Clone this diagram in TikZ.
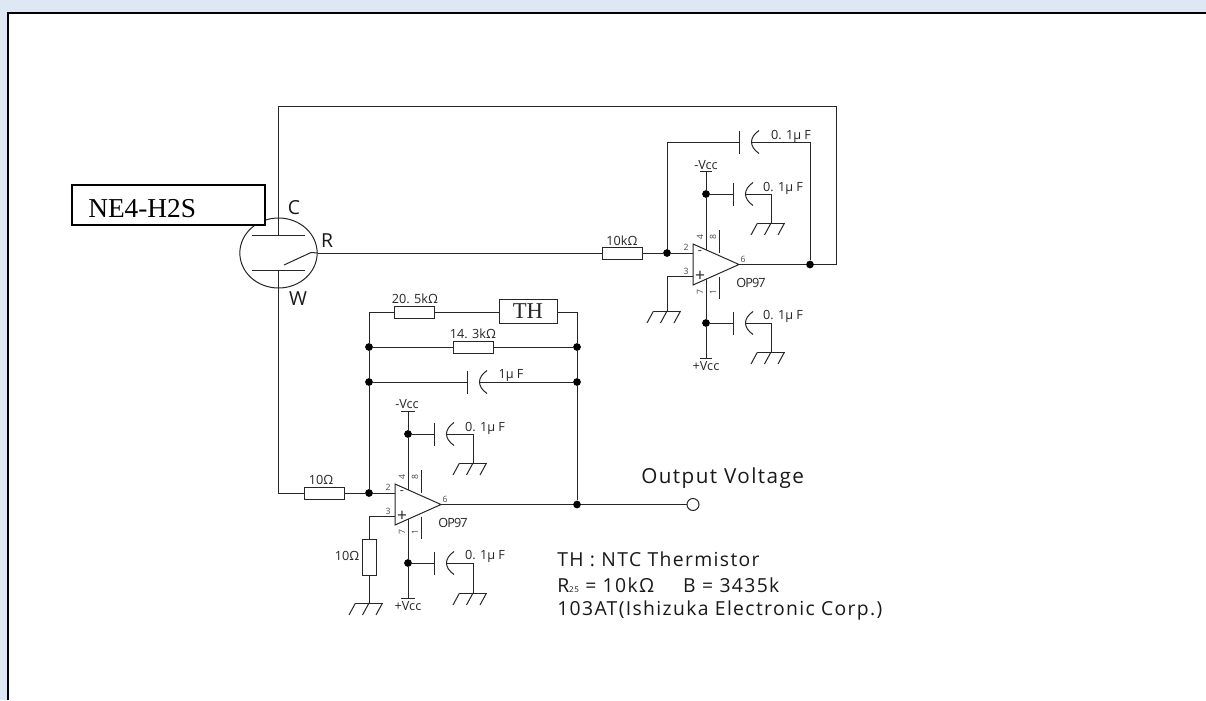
\documentclass[tikz,border=0pt]{standalone}
\usepackage{fontspec}
\setmainfont{Open Sans}
\newfontfamily\boxfont{Liberation Serif}
\newfontfamily\spreadfont[LetterSpace=7]{Open Sans}
\newfontfamily\tightfont[LetterSpace=-7]{Open Sans}
\usetikzlibrary{shapes.geometric}
\definecolor{paneblue}{HTML}{DEE8F4}
\tikzset{
	wire/.style={line width=0.75pt,black!85},
	dot/.style={circle,fill=black,inner sep=0pt,minimum size=5.8pt},
	res/.style={draw,wire,fill=white,inner sep=0pt,minimum width=30pt,minimum height=9pt},
	resv/.style={draw,wire,fill=white,inner sep=0pt,minimum width=10.5pt,minimum height=27pt},
	val/.style={inner sep=0pt,font=\fontsize{9.5}{11}\selectfont,black!85},
	pin/.style={inner sep=0pt,font=\fontsize{6.5}{8}\selectfont,black!70},
	note/.style={inner sep=0pt,anchor=west,font=\spreadfont\fontsize{14.5}{16}\selectfont,black!90},
	term/.style={inner sep=0pt,font=\fontsize{14.5}{16}\selectfont,black!90},
	gnd/.pic={
		\draw[wire] (-13.5,0) to (13.5,0);
		\foreach \xcoord in {-13.5,0,13.5} \draw[wire] (\xcoord,0) to ++(-6.5,12);
		\coordinate (-top) at (0,0);
	},
	cap/.pic={
		\draw[wire] (0,-11.5) to (0,11.5);
		\draw[wire] (20,-11.5) .. controls (15,-8) and (12.5,-4) .. (12.5,0) .. controls (12.5,4) and (15,8) .. (20,11.5);
		\coordinate (-in) at (0,0);
		\coordinate (-out) at (12.5,0);
	},
	opamp/.pic={
		\draw[wire] (0,-20.5) to (46,0) to (0,20.5) to cycle;
		\draw[wire] (26,-34.5) to (26,-12);
		\draw[wire] (26,12) to (26,34.5);
		\foreach \pinname/\xcoord/\ycoord in {2/-7/-17,3/-7/6.5,6/50/-5} \node[pin] at (\xcoord,\ycoord) {\pinname};
		\foreach \pinname/\xcoord/\ycoord in {4/7/-27,8/20/-27,7/7/28,1/20/28} \node[pin,rotate=90] at (\xcoord,\ycoord) {\pinname};
		\node[val] at (7,-11.5) {-};
		\node[val,font=\fontsize{13}{14}\selectfont] at (7,11.5) {+};
		\node[val,font=\tightfont\fontsize{9.5}{11}\selectfont] at (58,18) {OP97};
		\coordinate (-minus) at (0,-11.5);
		\coordinate (-plus) at (0,11.5);
		\coordinate (-out) at (46,0);
		\coordinate (-vneg) at (13,-14.7);
		\coordinate (-vpos) at (13,14.7);
	}
}
\begin{document}
\begin{tikzpicture}[x=0.75pt,y=-0.75pt]
	\useasboundingbox (0,0) rectangle (1206,700);
	\fill[paneblue] (0,0) rectangle (1206,700);
	\fill[white] (7,12) rectangle (1206,700);
	\draw[line width=1.6pt] (8,700) to (8,13) to (1206,13);

	% sensor
	\node[draw,wire,ellipse,inner sep=0pt,minimum width=58pt,minimum height=52.5pt] (sensor) at (278.5,253) {};
	\coordinate (plateC) at (278.5,235);
	\coordinate (plateW) at (278.5,270);
	\coordinate (topleft) at (278.5,106);
	\coordinate (topright) at (836,106);
	\draw[wire] (252,235) to (305,235);
	\draw[wire] (252,270) to (305,270);
	\draw[wire] (284,265) to (311,252.5) to (sensor.east);
	\draw[wire] (plateC) to (topleft) to (topright);
	\node[draw,line width=1.6pt,fill=white,inner sep=0pt,minimum width=145pt,minimum height=30.5pt] (name) at (168.5,205) {};
	\node[inner sep=0pt,anchor=west,font=\boxfont\fontsize{20.5}{22}\selectfont] (nametext) at (88,209) {NE4-H2S};
	\node[term] (labelC) at (294,208) {C};
	\node[term] (labelR) at (327,241) {R};
	\node[term] (labelW) at (298,299) {W};

	% upper amplifier
	\pic (ampA) at (693,264.5) {opamp};
	\node[res] (rinA) at (622,253) {};
	\node[val] (rinAval) at (622,241) {10kΩ};
	\node[dot] (sumA) at (667,253) {};
	\node[dot] (outA) at (810,264.5) {};
	\draw[wire] (sensor.east) to (rinA) to (sumA) to (ampA-minus);
	\draw[wire] (ampA-out) to (outA) to (836,264.5) to (topright);
	\pic (capfb) at (739,142) {cap};
	\node[val] (capfbval) at (791,136) {0. 1µ F};
	\draw[wire] (sumA) to (667,142) to (capfb-in);
	\draw[wire] (capfb-out) to (810,142) to (outA);
	\pic (gndA) at (667,311) {gnd};
	\draw[wire] (ampA-plus) to (667,276) to (gndA-top);

	\node[val] (vnegA) at (706,165) {-Vcc};
	\node[val] (vposA) at (706,366) {+Vcc};
	\node[dot] (nodeAn) at (706,194) {};
	\node[dot] (nodeAp) at (706,323) {};
	\draw[wire] (700,171.5) to (712,171.5);
	\draw[wire] (700,358) to (712,358);
	\draw[wire] (706,171.5) to (nodeAn) to (ampA-vneg);
	\draw[wire] (ampA-vpos) to (nodeAp) to (706,358);
	\pic (capAn) at (733,194) {cap};
	\pic (capAp) at (733,323) {cap};
	\pic (gndAn) at (771,223) {gnd};
	\pic (gndAp) at (771,352) {gnd};
	\draw[wire] (nodeAn) to (capAn-in);
	\draw[wire] (capAn-out) to (771,194) to (gndAn-top);
	\draw[wire] (nodeAp) to (capAp-in);
	\draw[wire] (capAp-out) to (771,323) to (gndAp-top);
	\node[val] (capAnval) at (783,188) {0. 1µ F};
	\node[val] (capApval) at (783,316) {0. 1µ F};

	% lower amplifier
	\pic (ampB) at (395,504.5) {opamp};
	\node[res] (rinB) at (324,493) {};
	\node[val] (rinBval) at (321,480) {10Ω};
	\node[dot] (sumB) at (369,493) {};
	\node[dot] (outB) at (577,504.5) {};
	\node[draw,wire,circle,inner sep=0pt,minimum size=9pt] (vout) at (693,504.5) {};
	\draw[wire] (plateW) to (278.5,493) to (rinB) to (sumB) to (ampB-minus);
	\draw[wire] (ampB-out) to (outB) to (vout);
	\node[resv] (rgnd) at (369,557) {};
	\node[val] (rgndval) at (347,556) {10Ω};
	\pic (gndB) at (369,603) {gnd};
	\draw[wire] (ampB-plus) to (369,516) to (rgnd) to (gndB-top);

	\node[dot] (fbL1) at (369,347) {};
	\node[dot] (fbL2) at (369,382) {};
	\node[dot] (fbR1) at (577,347) {};
	\node[dot] (fbR2) at (577,382) {};
	\node[res] (rfbA) at (414.5,312) {};
	\node[val] (rfbAval) at (415,299) {20. 5kΩ};
	\node[draw,wire,fill=white,inner sep=0pt,minimum width=43.5pt,minimum height=18pt,font=\boxfont\fontsize{17}{18}\selectfont] (thermistor) at (528,311) {TH};
	\node[res] (rfbB) at (473,347) {};
	\node[val] (rfbBval) at (473,334) {14. 3kΩ};
	\draw[wire] (sumB) to (fbL2) to (fbL1) to (369,312) to (rfbA) to (499,312);
	\draw[wire] (557,312) to (577,312) to (fbR1) to (fbR2) to (outB);
	\draw[wire] (fbL1) to (rfbB) to (fbR1);
	\pic (capfbB) at (467,382) {cap};
	\node[val] (capfbBval) at (511,375) {1µ F};
	\draw[wire] (fbL2) to (capfbB-in);
	\draw[wire] (capfbB-out) to (fbR2);

	\node[val] (vnegB) at (407,404) {-Vcc};
	\node[val] (vposB) at (408,606) {+Vcc};
	\node[dot] (nodeBn) at (408,434) {};
	\node[dot] (nodeBp) at (408,563) {};
	\draw[wire] (401,411) to (415,411);
	\draw[wire] (401,598) to (415,598);
	\draw[wire] (408,411) to (nodeBn) to (ampB-vneg);
	\draw[wire] (ampB-vpos) to (nodeBp) to (408,598);
	\pic (capBn) at (434,434) {cap};
	\pic (capBp) at (434,563) {cap};
	\pic (gndBn) at (473,463) {gnd};
	\pic (gndBp) at (473,593) {gnd};
	\draw[wire] (nodeBn) to (capBn-in);
	\draw[wire] (capBn-out) to (473,434) to (gndBn-top);
	\draw[wire] (nodeBp) to (capBp-in);
	\draw[wire] (capBp-out) to (473,563) to (gndBp-top);
	\node[val] (capBnval) at (485,428) {0. 1µ F};
	\node[val] (capBpval) at (485,556) {0. 1µ F};

	% notes
	\node[note,font=\spreadfont\fontsize{15.5}{17}\selectfont] (outtext) at (641,478) {Output Voltage};
	\node[note] (noteA) at (557,559) {TH : NTC Thermistor};
	\node[note] (noteB) at (557,585) {R{\fontsize{6}{7}\selectfont 25} = 10kΩ\hspace{1.5em}B = 3435k};
	\node[note] (noteC) at (557,610) {103AT(Ishizuka Electronic Corp.)};
\end{tikzpicture}
\end{document}
